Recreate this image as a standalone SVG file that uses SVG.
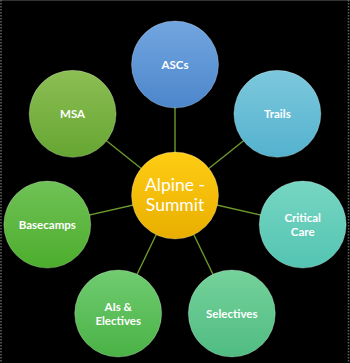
<svg xmlns="http://www.w3.org/2000/svg" width="350" height="363" viewBox="0 0 350 363">
<defs>
<linearGradient id="gBlue" x1="0" y1="0" x2="0" y2="1"><stop offset="0" stop-color="#72a6e0"/><stop offset="1" stop-color="#4c86cb"/></linearGradient>
<linearGradient id="gSky" x1="0" y1="0" x2="0" y2="1"><stop offset="0" stop-color="#7cc8dd"/><stop offset="1" stop-color="#54b2ce"/></linearGradient>
<linearGradient id="gTeal" x1="0" y1="0" x2="0" y2="1"><stop offset="0" stop-color="#76d6c2"/><stop offset="1" stop-color="#54c4b2"/></linearGradient>
<linearGradient id="gMint" x1="0" y1="0" x2="0" y2="1"><stop offset="0" stop-color="#74d29a"/><stop offset="1" stop-color="#50bc82"/></linearGradient>
<linearGradient id="gGreen" x1="0" y1="0" x2="0" y2="1"><stop offset="0" stop-color="#70cc70"/><stop offset="1" stop-color="#4ab246"/></linearGradient>
<linearGradient id="gLeaf" x1="0" y1="0" x2="0" y2="1"><stop offset="0" stop-color="#70c256"/><stop offset="1" stop-color="#4cad2c"/></linearGradient>
<linearGradient id="gOlive" x1="0" y1="0" x2="0" y2="1"><stop offset="0" stop-color="#8cbe54"/><stop offset="1" stop-color="#66a632"/></linearGradient>
<linearGradient id="gGold" x1="0" y1="0" x2="0" y2="1"><stop offset="0" stop-color="#ffcd14"/><stop offset="1" stop-color="#e8ae00"/></linearGradient>
</defs>
<style>
.node{stroke:#ffffff;stroke-opacity:0.25;stroke-width:1}
.lbl{font-family:Lato,"Open Sans","Liberation Sans",sans-serif;font-weight:bold;font-size:11.5px;fill:#ffffff;text-anchor:middle}
.big{font-family:Lato,"Open Sans","Liberation Sans",sans-serif;font-size:17.5px;fill:#ffffff;text-anchor:middle}
.conn line{stroke:#6e9a2c;stroke-width:1.4}
</style>
<rect x="0" y="0" width="350" height="363" fill="#000000"/>
<line x1="0" y1="0.5" x2="350" y2="0.5" stroke="#333333" stroke-width="1"/>
<line x1="1" y1="0" x2="1" y2="363" stroke="#666666" stroke-width="1.5" stroke-dasharray="1.5,1.5"/>
<line x1="348.5" y1="0" x2="348.5" y2="363" stroke="#666666" stroke-width="1.5" stroke-dasharray="1.5,1.5"/>
<g id="connectors" class="conn">
<line x1="175" y1="195.5" x2="175" y2="64.5"/>
<line x1="175" y1="195.5" x2="277.4" y2="113.8"/>
<line x1="175" y1="195.5" x2="302.7" y2="224.6"/>
<line x1="175" y1="195.5" x2="231.8" y2="313.5"/>
<line x1="175" y1="195.5" x2="118.2" y2="313.5"/>
<line x1="175" y1="195.5" x2="47.3" y2="224.6"/>
<line x1="175" y1="195.5" x2="72.6" y2="113.8"/>
</g>
<g id="node-ascs"><circle class="node" cx="175" cy="64.5" r="43.5" fill="url(#gBlue)"/><text class="lbl" x="175" y="68.5">ASCs</text></g>
<g id="node-trails"><circle class="node" cx="277.4" cy="113.8" r="43.5" fill="url(#gSky)"/><text class="lbl" x="277.4" y="117.5">Trails</text></g>
<g id="node-critical-care"><circle class="node" cx="302.7" cy="224.6" r="43.5" fill="url(#gTeal)"/><text class="lbl" x="302.7" y="222">Critical</text><text class="lbl" x="302.7" y="235.5">Care</text></g>
<g id="node-selectives"><circle class="node" cx="231.8" cy="313.5" r="43.5" fill="url(#gMint)"/><text class="lbl" x="231.8" y="317.5">Selectives</text></g>
<g id="node-ais-electives"><circle class="node" cx="118.2" cy="313.5" r="43.5" fill="url(#gGreen)"/><text class="lbl" x="118.2" y="311">AIs &amp;</text><text class="lbl" x="118.2" y="324.5">Electives</text></g>
<g id="node-basecamps"><circle class="node" cx="47.3" cy="224.6" r="43.5" fill="url(#gLeaf)"/><text class="lbl" x="47.3" y="228.5">Basecamps</text></g>
<g id="node-msa"><circle class="node" cx="72.6" cy="113.8" r="43.5" fill="url(#gOlive)"/><text class="lbl" x="72.6" y="117.5">MSA</text></g>
<g id="node-center"><circle class="node" cx="175" cy="195.5" r="43.5" fill="url(#gGold)"/><text class="big" x="175" y="191">Alpine -</text><text class="big" x="175" y="211">Summit</text></g>
</svg>
